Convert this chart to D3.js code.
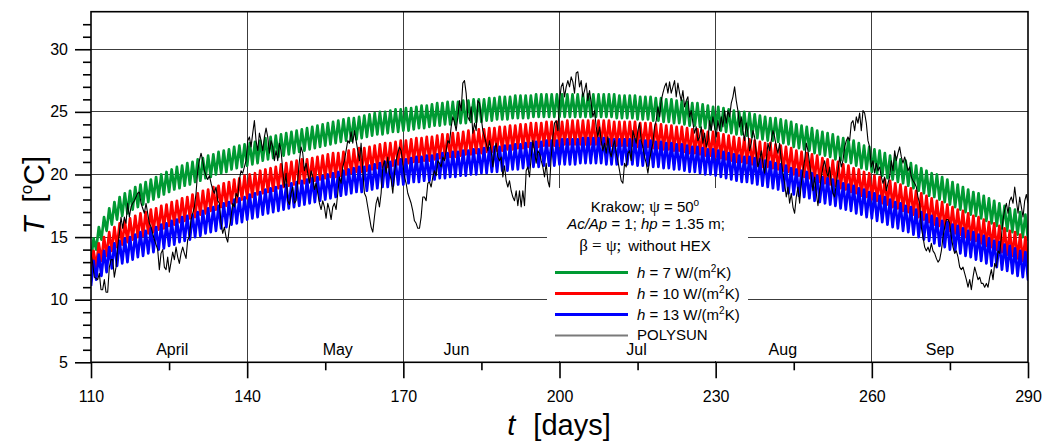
<!DOCTYPE html>
<html>
<head>
<meta charset="utf-8">
<script src="https://cdn.jsdelivr.net/npm/d3@7"></script>
<style>
  body { margin: 0; background: #fff; }
  svg { display: block; font-family: Arial, "Liberation Sans", sans-serif; }
</style>
</head>
<body>
<svg id="chart" width="1044" height="441"></svg>
<script>
// ---------- data ----------
// Collector temperature, daily peak and trough values (°C), one value per day from day 110 to day 290
const firstDay = 110;
const lastDay = 290;

const greenMax = [
  14.9,15.8,16.6,17.3,17.8,18.2,18.5,18.7,19.0,19.2,
  19.4,19.6,19.8,20.0,20.2,20.4,20.6,20.7,20.9,21.0,
  21.2,21.3,21.5,21.6,21.8,21.9,22.0,22.2,22.3,22.4,
  22.5,22.6,22.7,22.9,23.0,23.1,23.2,23.3,23.4,23.5,
  23.6,23.7,23.8,23.9,24.0,24.1,24.2,24.3,24.4,24.5,
  24.5,24.6,24.7,24.8,24.9,25.0,25.0,25.1,25.2,25.2,
  25.3,25.3,25.4,25.5,25.5,25.6,25.7,25.7,25.8,25.8,
  25.8,25.9,25.9,26.0,26.0,26.0,26.1,26.1,26.2,26.2,
  26.2,26.3,26.3,26.3,26.3,26.4,26.4,26.4,26.4,26.4,
  26.4,26.4,26.4,26.4,26.4,26.4,26.4,26.4,26.4,26.4,
  26.4,26.3,26.3,26.3,26.3,26.2,26.2,26.2,26.1,26.1,
  26.0,26.0,25.9,25.9,25.8,25.7,25.7,25.6,25.5,25.4,
  25.4,25.3,25.2,25.1,25.0,25.0,24.9,24.8,24.7,24.6,
  24.5,24.5,24.4,24.3,24.2,24.0,23.9,23.8,23.7,23.5,
  23.4,23.3,23.2,23.0,22.9,22.8,22.7,22.5,22.3,22.2,
  22.0,21.9,21.7,21.5,21.4,21.2,21.1,20.9,20.7,20.5,
  20.3,20.1,20.0,19.8,19.6,19.4,19.2,19.0,18.8,18.6,
  18.5,18.3,18.1,17.9,17.7,17.5,17.3,17.2,17.0,16.8,
  16.6
];
const greenMin = [
  13.1,14.0,14.8,15.5,16.0,16.4,16.7,16.9,17.2,17.4,
  17.6,17.8,18.0,18.2,18.4,18.6,18.8,18.9,19.1,19.2,
  19.4,19.5,19.7,19.8,20.0,20.1,20.2,20.4,20.5,20.6,
  20.7,20.8,20.9,21.1,21.2,21.3,21.4,21.5,21.6,21.7,
  21.8,21.9,22.0,22.1,22.2,22.3,22.4,22.5,22.6,22.7,
  22.7,22.8,22.9,23.0,23.1,23.2,23.2,23.3,23.4,23.4,
  23.5,23.5,23.6,23.7,23.7,23.8,23.9,23.9,24.0,24.0,
  24.0,24.1,24.1,24.2,24.2,24.2,24.3,24.3,24.4,24.4,
  24.4,24.5,24.5,24.5,24.5,24.6,24.6,24.6,24.6,24.6,
  24.6,24.6,24.6,24.6,24.6,24.6,24.6,24.6,24.6,24.6,
  24.6,24.5,24.5,24.5,24.5,24.4,24.4,24.4,24.3,24.3,
  24.2,24.2,24.1,24.1,24.0,23.9,23.9,23.8,23.7,23.6,
  23.6,23.5,23.4,23.3,23.2,23.2,23.1,23.0,22.9,22.8,
  22.7,22.7,22.6,22.5,22.4,22.2,22.1,22.0,21.9,21.7,
  21.6,21.5,21.4,21.2,21.1,21.0,20.9,20.7,20.5,20.4,
  20.2,20.1,19.9,19.7,19.6,19.4,19.3,19.1,18.9,18.7,
  18.5,18.3,18.2,18.0,17.8,17.6,17.4,17.2,17.0,16.8,
  16.7,16.5,16.3,16.1,15.9,15.7,15.5,15.4,15.2,15.0,
  14.8
];
const redMax = [
  13.9,14.5,15.0,15.4,15.8,16.1,16.3,16.5,16.7,16.9,
  17.0,17.2,17.3,17.5,17.6,17.8,17.9,18.1,18.2,18.4,
  18.5,18.7,18.8,19.0,19.1,19.3,19.4,19.6,19.7,19.9,
  20.0,20.1,20.3,20.4,20.5,20.6,20.8,20.9,21.0,21.1,
  21.2,21.2,21.3,21.4,21.5,21.6,21.7,21.7,21.8,21.9,
  22.0,22.1,22.1,22.2,22.3,22.4,22.5,22.5,22.6,22.7,
  22.7,22.8,22.9,22.9,23.0,23.0,23.1,23.2,23.2,23.3,
  23.3,23.4,23.5,23.5,23.6,23.6,23.7,23.7,23.8,23.8,
  23.9,23.9,24.0,24.0,24.1,24.1,24.1,24.2,24.2,24.2,
  24.2,24.3,24.3,24.3,24.3,24.3,24.3,24.3,24.3,24.3,
  24.2,24.2,24.2,24.2,24.2,24.1,24.1,24.1,24.0,24.0,
  23.9,23.9,23.8,23.8,23.7,23.6,23.6,23.5,23.4,23.4,
  23.3,23.2,23.1,23.0,22.9,22.9,22.8,22.7,22.6,22.5,
  22.5,22.4,22.3,22.2,22.1,21.9,21.8,21.7,21.6,21.5,
  21.3,21.2,21.1,21.0,20.8,20.7,20.5,20.4,20.2,20.1,
  19.9,19.8,19.6,19.5,19.3,19.2,19.0,18.9,18.7,18.5,
  18.3,18.1,17.9,17.8,17.6,17.4,17.2,17.1,16.9,16.7,
  16.6,16.4,16.2,16.1,15.9,15.7,15.5,15.4,15.2,15.0,
  14.9
];
const redMin = [
  12.0,12.6,13.1,13.5,13.9,14.2,14.4,14.6,14.8,15.0,
  15.1,15.3,15.4,15.6,15.7,15.9,16.0,16.2,16.3,16.5,
  16.6,16.8,16.9,17.1,17.2,17.4,17.5,17.7,17.8,18.0,
  18.1,18.2,18.4,18.5,18.6,18.7,18.9,19.0,19.1,19.2,
  19.3,19.3,19.4,19.5,19.6,19.7,19.8,19.8,19.9,20.0,
  20.1,20.2,20.2,20.3,20.4,20.5,20.6,20.6,20.7,20.8,
  20.8,20.9,21.0,21.0,21.1,21.1,21.2,21.3,21.3,21.4,
  21.4,21.5,21.6,21.6,21.7,21.7,21.8,21.8,21.9,21.9,
  22.0,22.0,22.1,22.1,22.2,22.2,22.2,22.3,22.3,22.3,
  22.3,22.4,22.4,22.4,22.4,22.4,22.4,22.4,22.4,22.4,
  22.3,22.3,22.3,22.3,22.3,22.2,22.2,22.2,22.1,22.1,
  22.0,22.0,21.9,21.9,21.8,21.7,21.7,21.6,21.5,21.5,
  21.4,21.3,21.2,21.1,21.0,21.0,20.9,20.8,20.7,20.6,
  20.6,20.5,20.4,20.3,20.2,20.0,19.9,19.8,19.7,19.6,
  19.4,19.3,19.2,19.1,18.9,18.8,18.6,18.5,18.3,18.2,
  18.0,17.9,17.7,17.6,17.4,17.3,17.1,17.0,16.8,16.6,
  16.4,16.2,16.0,15.9,15.7,15.5,15.3,15.2,15.0,14.8,
  14.7,14.5,14.3,14.2,14.0,13.8,13.6,13.5,13.3,13.1,
  13.0
];
const blueMax = [
  13.1,13.6,13.9,14.2,14.5,14.7,14.9,15.0,15.2,15.4,
  15.5,15.7,15.8,16.0,16.1,16.3,16.4,16.6,16.7,16.8,
  17.0,17.1,17.3,17.4,17.5,17.7,17.8,18.0,18.1,18.2,
  18.4,18.5,18.6,18.8,18.9,19.0,19.1,19.2,19.3,19.4,
  19.5,19.6,19.7,19.8,19.9,20.0,20.1,20.2,20.3,20.4,
  20.5,20.6,20.6,20.7,20.8,20.9,21.0,21.0,21.1,21.2,
  21.2,21.3,21.4,21.4,21.5,21.5,21.6,21.7,21.7,21.8,
  21.8,21.9,21.9,22.0,22.0,22.1,22.1,22.2,22.2,22.3,
  22.3,22.4,22.4,22.5,22.5,22.6,22.6,22.7,22.7,22.7,
  22.8,22.8,22.8,22.8,22.9,22.9,22.9,22.9,22.9,22.8,
  22.8,22.8,22.8,22.8,22.8,22.7,22.7,22.7,22.6,22.6,
  22.5,22.5,22.4,22.4,22.3,22.2,22.2,22.1,22.0,22.0,
  21.9,21.8,21.7,21.6,21.5,21.4,21.4,21.3,21.2,21.1,
  21.0,20.9,20.8,20.7,20.5,20.4,20.3,20.2,20.1,19.9,
  19.8,19.7,19.6,19.5,19.3,19.2,19.1,18.9,18.8,18.6,
  18.5,18.3,18.2,18.0,17.8,17.7,17.5,17.4,17.2,17.0,
  16.8,16.7,16.5,16.3,16.2,16.0,15.9,15.7,15.5,15.4,
  15.2,15.1,14.9,14.7,14.6,14.4,14.3,14.1,13.9,13.8,
  13.6
];
const blueMin = [
  11.1,11.6,11.9,12.2,12.5,12.7,12.9,13.0,13.2,13.4,
  13.5,13.7,13.8,14.0,14.1,14.3,14.4,14.6,14.7,14.8,
  15.0,15.1,15.3,15.4,15.5,15.7,15.8,16.0,16.1,16.2,
  16.4,16.5,16.6,16.8,16.9,17.0,17.1,17.2,17.3,17.4,
  17.5,17.6,17.7,17.8,17.9,18.0,18.1,18.2,18.3,18.4,
  18.5,18.6,18.6,18.7,18.8,18.9,19.0,19.0,19.1,19.2,
  19.2,19.3,19.4,19.4,19.5,19.5,19.6,19.7,19.7,19.8,
  19.8,19.9,19.9,20.0,20.0,20.1,20.1,20.2,20.2,20.3,
  20.3,20.4,20.4,20.5,20.5,20.6,20.6,20.7,20.7,20.7,
  20.8,20.8,20.8,20.8,20.9,20.9,20.9,20.9,20.9,20.8,
  20.8,20.8,20.8,20.8,20.8,20.7,20.7,20.7,20.6,20.6,
  20.5,20.5,20.4,20.4,20.3,20.2,20.2,20.1,20.0,20.0,
  19.9,19.8,19.7,19.6,19.5,19.4,19.4,19.3,19.2,19.1,
  19.0,18.9,18.8,18.7,18.5,18.4,18.3,18.2,18.1,17.9,
  17.8,17.7,17.6,17.5,17.3,17.2,17.1,16.9,16.8,16.6,
  16.5,16.3,16.2,16.0,15.8,15.7,15.5,15.4,15.2,15.0,
  14.8,14.7,14.5,14.3,14.2,14.0,13.9,13.7,13.5,13.4,
  13.2,13.1,12.9,12.7,12.6,12.4,12.3,12.1,11.9,11.8,
  11.6
];

// POLYSUN reference run, readings at an even spacing starting on day 110
const polysunStart = 110;
const polysunStepDays = 0.3203;
const polysunT = [
  13.7,12.9,11.8,11.7,11.6,12.1,10.8,10.8,11.6,10.6,
  10.6,12.6,13.2,13.2,11.8,12.6,14.2,15.3,16.6,15.7,
  16.6,16.1,17.7,16.6,17.4,17.7,17.9,18.2,18.5,18.6,
  17.7,17.3,16.9,17.7,16.9,16.1,15.8,15.3,14.8,14.4,
  14.0,12.4,13.7,14.0,12.6,12.4,13.4,12.2,13.0,13.8,
  13.2,14.2,13.4,12.9,13.7,14.2,13.7,13.3,14.8,15.0,
  16.4,16.9,17.4,18.5,20.3,21.1,21.7,21.1,20.3,19.9,
  19.6,19.9,19.3,18.8,18.5,19.0,17.9,17.7,16.1,15.3,
  15.8,15.0,14.6,15.8,16.6,17.7,17.4,18.5,18.2,19.6,
  20.3,20.1,20.6,21.1,22.7,
  23.0,22.2,23.3,24.3,22.7,21.9,23.3,22.7,21.9,23.0,
  23.7,23.0,21.7,22.7,22.2,21.1,21.9,21.1,22.5,21.9,
  20.3,19.0,20.1,17.9,17.6,18.5,19.0,17.7,17.9,19.6,
  21.1,22.2,21.7,20.3,20.9,20.1,19.3,20.3,19.8,18.8,
  19.3,18.5,17.7,17.2,17.9,17.4,16.5,17.7,17.2,16.4,
  17.4,17.7,17.2,18.5,19.8,19.3,20.6,21.1,21.9,22.7,
  22.5,23.4,22.5,23.5,22.7,21.9,21.1,22.5,20.3,18.5,
  18.2,17.4,16.6,15.8,15.4,16.6,17.7,18.2,17.4,18.5,
  20.6,21.1,20.1,21.4,20.1,19.6,18.5,20.1,21.1,21.7,
  22.2,21.9,20.9,
  19.8,19.3,18.5,18.1,17.7,17.1,16.3,16.1,15.7,15.7,
  16.6,18.2,18.2,17.9,19.3,19.4,19.0,19.8,20.3,19.9,
  21.1,20.9,20.6,21.4,21.1,21.9,22.7,22.5,23.8,24.6,
  24.2,23.5,24.6,25.9,25.1,27.3,27.5,26.5,24.6,24.3,
  25.4,23.3,24.1,23.5,25.9,25.7,24.6,23.5,23.0,22.5,
  21.9,22.7,21.9,20.6,21.9,22.5,21.4,21.1,21.4,19.8,
  20.7,19.5,19.0,19.5,18.7,18.2,17.9,18.7,17.5,18.7,
  17.4,18.7,17.5,20.3,20.6,19.8,21.4,22.7,21.9,20.9,
  21.9,21.7,21.1,20.6,19.8,20.9,19.5,19.0,21.4,23.0,
  24.1,24.3,23.5,
  25.9,27.0,27.3,26.2,27.0,27.5,27.0,27.8,27.4,26.5,
  28.1,28.2,27.0,27.5,26.2,26.7,27.3,25.9,26.7,25.7,
  24.6,25.1,23.8,23.0,23.8,22.7,21.9,22.5,21.7,23.0,
  21.9,21.4,22.2,22.7,21.7,21.1,20.3,19.5,19.3,20.9,
  20.6,21.7,21.9,21.1,23.5,23.0,22.5,23.5,24.1,22.7,
  22.2,21.4,20.9,20.1,21.1,21.9,22.5,23.8,24.3,25.4,
  24.6,25.9,26.5,27.0,27.3,26.5,27.4,26.5,27.0,27.5,
  26.2,27.3,26.5,25.9,26.7,25.4,25.9,26.2,24.6,25.1,
  24.1,23.3,23.8,22.7,23.0,23.8,22.5,23.3,22.2,22.7,
  24.3,23.5,24.6,
  23.8,23.0,24.3,23.5,24.6,23.8,25.1,24.1,25.1,24.6,
  25.7,26.2,27.0,25.9,25.1,23.8,24.6,23.5,22.7,24.1,
  23.3,21.9,22.5,23.5,23.0,21.7,20.6,21.1,21.9,20.9,
  20.1,21.1,22.5,21.9,22.7,23.5,23.0,22.2,21.7,22.5,
  21.1,20.1,19.3,18.2,19.0,17.7,18.5,17.4,16.9,18.2,
  19.0,17.7,19.3,20.3,21.1,22.5,21.9,20.9,19.8,18.7,
  19.8,18.5,17.5,18.7,19.8,20.6,21.1,20.3,19.8,20.6,
  19.3,18.5,18.2,19.3,20.3,21.4,20.6,21.1,22.2,22.7,
  23.0,22.7,24.1,24.3,23.5,24.6,24.1,24.9,23.5,25.1,
  24.9,24.1,22.7,
  22.2,20.6,21.1,20.1,20.9,20.3,20.6,19.8,19.3,19.8,
  18.7,19.3,19.8,21.1,20.3,21.9,21.1,21.7,22.2,21.4,
  20.9,21.4,20.9,20.3,20.6,19.8,19.5,19.3,19.0,18.2,
  17.7,15.8,15.0,14.2,13.9,14.2,13.8,14.5,13.9,13.7,
  13.3,13.0,13.2,13.9,15.0,15.8,16.4,16.4,16.1,15.0,
  14.2,13.7,13.9,13.4,12.6,12.4,12.6,12.1,11.6,11.0,
  11.6,10.8,11.8,12.6,12.1,11.6,11.8,11.3,11.3,11.0,
  11.3,11.0,11.8,12.4,11.6,12.9,12.6,13.9,13.7,15.0,
  16.4,17.2,17.7,16.9,17.9,18.2,17.7,19.0,17.9,16.9,
  18.2,17.4,16.6,17.9,18.4,17.7
];

// Axis ticks and month labels
const xMajorTicks = [110, 140, 170, 200, 230, 260, 290];
const xMinorTicks = [125, 155, 185, 215, 245, 275];
const yMajorTicks = [5, 10, 15, 20, 25, 30];
const yMinorTicks = [6,7,8,9,11,12,13,14,16,17,18,19,21,22,23,24,26,27,28,29,31,32];
const monthNames = ["April", "May", "Jun", "Jul", "Aug", "Sep"];
const monthDays = [125.6, 157.4, 180.2, 214.8, 242.9, 273.1];

const seriesLabels = ["7", "10", "13"];
const seriesColors = ["#009a33", "#ff0000", "#0000ff"];

// ---------- layout ----------
const svg = d3.select("#chart");
const plot = { left: 91, right: 1028, top: 11.7, bottom: 362.3 };

const x = d3.scaleLinear().domain([110, 290]).range([plot.left, plot.right]);
const y = d3.scaleLinear().domain([5, 33]).range([plot.bottom, plot.top]);

svg.append("rect").attr("width", 1044).attr("height", 441).attr("fill", "#fff");

svg.append("defs").append("clipPath").attr("id", "plotClip")
  .append("rect")
  .attr("x", plot.left).attr("y", plot.top)
  .attr("width", plot.right - plot.left).attr("height", plot.bottom - plot.top);

// grid
const grid = svg.append("g").attr("stroke", "#3c3c3c").attr("stroke-width", 1)
  .attr("shape-rendering", "crispEdges");
grid.selectAll("line.h").data(yMajorTicks.filter(v => v > 5)).join("line")
  .attr("x1", plot.left).attr("x2", plot.right)
  .attr("y1", d => y(d)).attr("y2", d => y(d));
grid.selectAll("line.v").data(xMajorTicks.filter(v => v > 110 && v < 290)).join("line")
  .attr("y1", plot.top).attr("y2", plot.bottom)
  .attr("x1", d => x(d)).attr("x2", d => x(d));

// data: each series is drawn as a daily trough-to-peak zigzag
const dataLayer = svg.append("g").attr("clip-path", "url(#plotClip)");
const line = d3.line().x(d => x(d[0])).y(d => y(d[1]));

const seriesData = [
  { min: greenMin, max: greenMax },
  { min: redMin, max: redMax },
  { min: blueMin, max: blueMax }
];
seriesData.forEach((s, k) => {
  const pts = [];
  s.min.forEach((v, i) => {
    pts.push([firstDay + i, v]);
    pts.push([firstDay + i + 0.5, s.max[i]]);
  });
  dataLayer.append("path")
    .attr("d", line(pts))
    .attr("fill", "none")
    .attr("stroke", seriesColors[k])
    .attr("stroke-width", 2.7)
    .attr("stroke-linejoin", "round");
});

const polyPts = polysunT.map((v, i) => [polysunStart + i * polysunStepDays, v]);
dataLayer.append("path")
  .attr("d", line(polyPts))
  .attr("fill", "none")
  .attr("stroke", "#000")
  .attr("stroke-width", 1.1)
  .attr("stroke-linejoin", "round");

// legend
const lg = svg.append("g");
lg.append("rect").attr("x", 547).attr("y", 188).attr("width", 201).attr("height", 173).attr("fill", "#fff");

const serif = "'Liberation Serif','DejaVu Serif',serif";
const hdr = lg.append("g").attr("font-size", 15).attr("text-anchor", "middle").attr("fill", "#000");
const l1 = hdr.append("text").attr("x", 645).attr("y", 212);
l1.append("tspan").text("Krakow; ");
l1.append("tspan").attr("font-family", serif).attr("font-size", 17).text("ψ");
l1.append("tspan").text(" = 50");
l1.append("tspan").attr("font-size", 10).attr("dy", -6).text("o");

const l2 = hdr.append("text").attr("x", 646).attr("y", 229);
l2.append("tspan").attr("font-style", "italic").text("Ac/Ap");
l2.append("tspan").text(" = 1; ");
l2.append("tspan").attr("font-style", "italic").text("hp");
l2.append("tspan").text(" = 1.35 m;");

const l3 = hdr.append("text").attr("x", 645).attr("y", 251);
l3.append("tspan").attr("font-family", serif).attr("font-size", 17).text("β = ψ;");
l3.append("tspan").attr("dx", 7).text("without HEX");

const itemY = [272.5, 293.5, 314.5];
seriesLabels.forEach((lab, k) => {
  lg.append("line").attr("x1", 555).attr("x2", 628)
    .attr("y1", itemY[k]).attr("y2", itemY[k])
    .attr("stroke", seriesColors[k]).attr("stroke-width", 3);
  const t = lg.append("text").attr("x", 637).attr("y", itemY[k] + 5.5).attr("font-size", 15);
  t.append("tspan").attr("font-style", "italic").text("h");
  t.append("tspan").text(" = " + lab + " W/(m");
  t.append("tspan").attr("font-size", 10).attr("dy", -6).text("2");
  t.append("tspan").attr("dy", 6).text("K)");
});
lg.append("line").attr("x1", 555).attr("x2", 628).attr("y1", 335.5).attr("y2", 335.5)
  .attr("stroke", "#7a7a7a").attr("stroke-width", 2);
lg.append("text").attr("x", 637).attr("y", 340).attr("font-size", 15).text("POLYSUN");

// month labels
svg.append("g").attr("font-size", 16).attr("text-anchor", "middle")
  .selectAll("text").data(monthNames).join("text")
  .attr("x", (d, i) => x(monthDays[i])).attr("y", 355)
  .text(d => d);

// frame
svg.append("rect")
  .attr("x", plot.left).attr("y", plot.top)
  .attr("width", plot.right - plot.left).attr("height", plot.bottom - plot.top)
  .attr("fill", "none").attr("stroke", "#000").attr("stroke-width", 1.6);

// axes
const yAxis = svg.append("g").attr("transform", `translate(${plot.left},0)`)
  .call(d3.axisLeft(y).tickValues(yMajorTicks).tickSize(16).tickPadding(7));
const yMinor = svg.append("g").attr("transform", `translate(${plot.left},0)`)
  .call(d3.axisLeft(y).tickValues(yMinorTicks).tickSize(8).tickFormat(""));
const xAxis = svg.append("g").attr("transform", `translate(0,${plot.bottom})`)
  .call(d3.axisBottom(x).tickValues(xMajorTicks).tickSize(16).tickPadding(12));
const xMinor = svg.append("g").attr("transform", `translate(0,${plot.bottom})`)
  .call(d3.axisBottom(x).tickValues(xMinorTicks).tickSize(8).tickFormat(""));

[yAxis, yMinor, xAxis, xMinor].forEach(g => {
  g.select(".domain").remove();
  g.selectAll(".tick line").attr("stroke", "#000").attr("stroke-width", 1.6);
  g.selectAll(".tick text").attr("font-size", 16).attr("font-family", "Arial, 'Liberation Sans', sans-serif").attr("fill", "#000");
});

// axis titles
const xt = svg.append("text").attr("x", 559).attr("y", 435).attr("font-size", 29).attr("text-anchor", "middle");
xt.append("tspan").attr("font-style", "italic").text("t");
xt.append("tspan").attr("dx", 18).text("[days]");

const yt = svg.append("text").attr("transform", "translate(44,195) rotate(-90)")
  .attr("font-size", 29).attr("text-anchor", "middle");
yt.append("tspan").attr("font-style", "italic").text("T");
yt.append("tspan").attr("dx", 14).text("[");
yt.append("tspan").attr("font-size", 17).attr("dy", -12).text("o");
yt.append("tspan").attr("dy", 12).text("C]");
</script>
</body>
</html>
